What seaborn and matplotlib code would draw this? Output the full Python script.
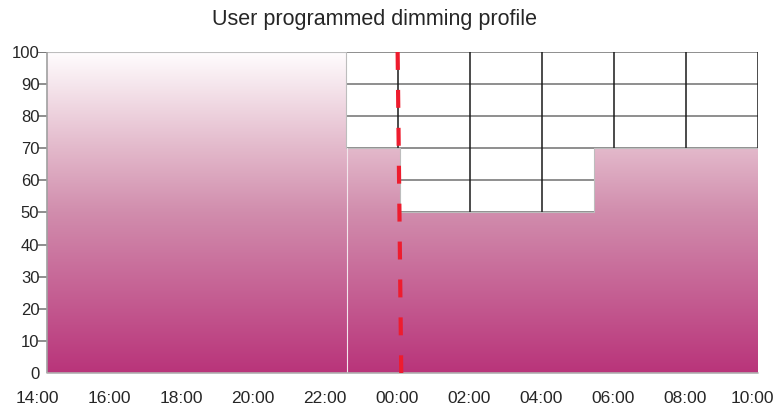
import numpy as np
import matplotlib
matplotlib.use("Agg")
import matplotlib.pyplot as plt
import matplotlib.transforms as mtransforms
from matplotlib.colors import LinearSegmentedColormap
import seaborn as sns

# hours after 14:00 where the dimming level changes, and the level (%) from there on
step_hours = [0.25, 8.55, 10.05, 15.45, 20.0]
step_levels = [100, 70, 50, 70, 70]
tick_hours = [0, 2, 4, 6, 8, 10, 12, 14, 16, 18, 20]
tick_labels = ["14:00", "16:00", "18:00", "20:00", "22:00", "00:00",
               "02:00", "04:00", "06:00", "08:00", "10:00"]
y_ticks = [0, 10, 20, 30, 40, 50, 60, 70, 80, 90, 100]
marker_hour = 10.05  # red dashed "now" line

sns.set_style("white")
plt.rcParams["font.family"] = ["Liberation Sans", "DejaVu Sans"]

fig = plt.figure(figsize=(7.77, 4.11), dpi=100)
ax = fig.add_axes([38 / 777, 1 - 373 / 411, 720 / 777, 321 / 411])

# grid behind the fill
for y in y_ticks[1:]:
    ax.axhline(y, color="#707070", lw=1.1, zorder=0)
for x in tick_hours[1:]:
    ax.axvline(x, color="#1a1a1a", lw=1.1, zorder=0)

# step outline via seaborn, then gradient clipped to the fill
sns.lineplot(x=step_hours, y=step_levels, drawstyle="steps-post",
             color="#bdbdbd", lw=0.8, ax=ax, zorder=2)
fill = ax.fill_between(step_hours, step_levels, step="post",
                       color="none", lw=0, zorder=1)

cmap = LinearSegmentedColormap.from_list(
    "dim", [(0.0, "#b9347a"), (0.5, "#d18dad"), (0.7, "#e3b9cb"), (1.0, "#fffdfe")])
grad = np.linspace(0, 1, 256).reshape(-1, 1)
img = ax.imshow(grad, cmap=cmap, aspect="auto", origin="lower",
                extent=[0, 20, 0, 100], zorder=1)
img.set_clip_path(fill.get_paths()[0], transform=ax.transData)

# thin seam between programmed segments and left border of the profile
ax.plot([step_hours[1] + 0.03] * 2, [0, 70], color="#f3e6ec", lw=0.8, zorder=2)
ax.plot([step_hours[0]] * 2, [0, 100], color="#a0a0a0", lw=1.2, zorder=2)

ax.plot([marker_hour - 0.06, marker_hour + 0.04], [100, 0], color="#ee1c2e",
        lw=3, dashes=(4.3, 4.8), zorder=3)

ax.set_xlim(0, 20)
ax.set_ylim(0, 100)
ax.set_xticks(tick_hours)
ax.set_xticklabels(tick_labels, fontsize=12.5)
ax.set_yticks(y_ticks)
ax.set_yticklabels([str(v) for v in y_ticks], fontsize=12)
ax.tick_params(axis="x", pad=13, length=0)
ax.tick_params(axis="y", pad=-1, length=0)
for side in ["top", "right", "left", "bottom"]:
    ax.spines[side].set_visible(False)
ax.plot([step_hours[0], 20], [0, 0], color="#b0b0b0", lw=1.2, zorder=2,
        clip_on=False)
ax.axhline(100, xmin=0, xmax=step_hours[1] / 20, color="#707070", lw=1.1, zorder=0)

# nudge x labels slightly left, as in the original layout
labels = ax.get_xticklabels()
for i, lab in enumerate(labels):
    dx = -6 if i == len(labels) - 1 else -1
    lab.set_transform(lab.get_transform() +
                      mtransforms.ScaledTranslation(dx / 100, 0, fig.dpi_scale_trans))

fig.text(375 / 777, 1 - 19 / 411, "User programmed dimming profile",
         ha="center", va="center", fontsize=15.5)

fig.savefig("out.png", dpi=100)
